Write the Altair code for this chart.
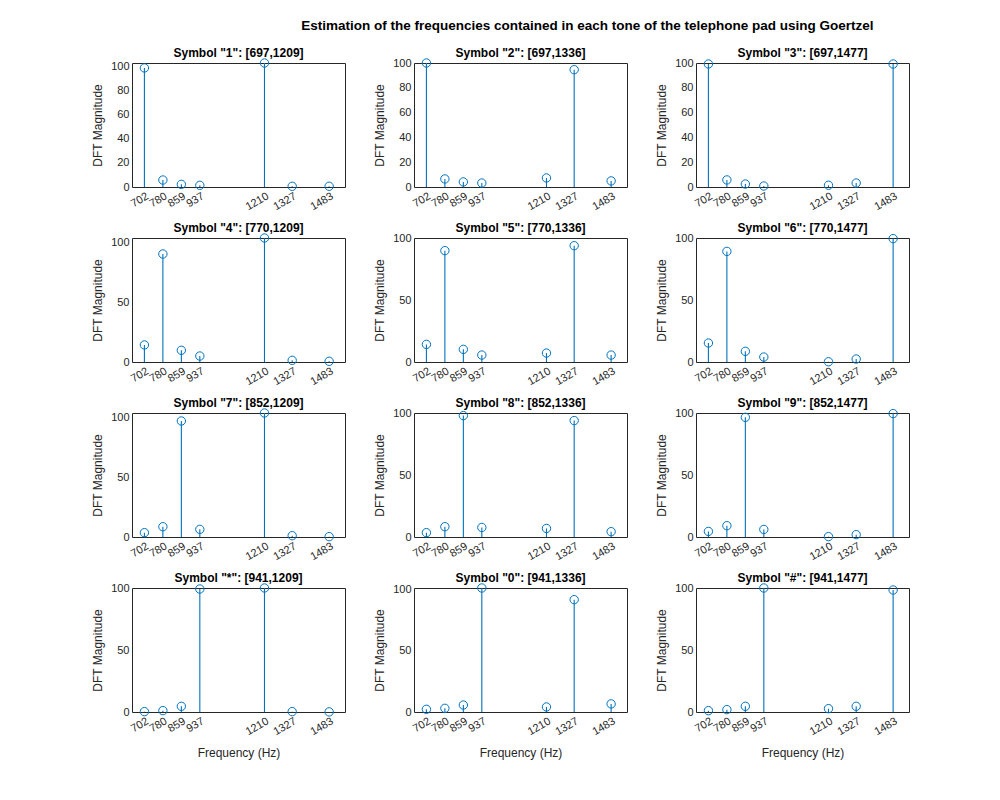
import altair as alt
import pandas as pd

# Bin frequencies (Hz) used by the Goertzel algorithm and their tick labels
freqs = [702.44, 780.49, 858.54, 936.59, 1209.76, 1326.83, 1482.93]
tick_labels = [702, 780, 859, 937, 1210, 1327, 1483]

symbols = ["1", "2", "3", "4", "5", "6", "7", "8", "9", "*", "0", "#"]
low_group = [697, 770, 852, 941]
high_group = [1209, 1336, 1477]

mag_1 = [98.9, 5.8, 2.2, 1.4, 103.0, 0.6, 0.6]
mag_2 = [100.0, 6.5, 4.1, 3.2, 7.3, 94.6, 4.9]
mag_3 = [99.2, 5.7, 2.4, 0.8, 1.4, 3.2, 99.2]
mag_4 = [14.3, 90.5, 9.8, 5.0, 103.9, 1.4, 0.6]
mag_5 = [14.2, 89.8, 10.2, 5.6, 7.2, 93.8, 5.6]
mag_6 = [15.3, 89.2, 8.6, 4.0, 0.2, 2.4, 99.5]
mag_7 = [3.6, 8.6, 97.2, 6.4, 103.9, 1.1, 0.3]
mag_8 = [3.5, 8.3, 97.9, 7.7, 6.9, 93.9, 4.3]
mag_9 = [4.5, 9.1, 96.5, 6.1, 0.3, 1.9, 99.5]
mag_star = [0.3, 1.1, 4.6, 99.5, 100.3, 0.3, 0.1]
mag_0 = [2.2, 3.0, 5.7, 101.0, 4.1, 91.5, 6.6]
mag_hash = [1.1, 1.9, 4.6, 100.0, 2.7, 4.6, 98.4]

magnitudes = [mag_1, mag_2, mag_3, mag_4, mag_5, mag_6,
              mag_7, mag_8, mag_9, mag_star, mag_0, mag_hash]

BLUE = "#0072BD"
TXT = "#262626"
FONT = "Liberation Sans"

panels = []
for i, sym in enumerate(symbols):
    row = i // 3
    col = i % 3
    df = pd.DataFrame({"f": freqs, "mag": magnitudes[i]})
    top = max(100.0, max(magnitudes[i]))
    yticks = [0, 20, 40, 60, 80, 100] if row == 0 else [0, 50, 100]
    title = f'Symbol "{sym}": [{low_group[row]},{high_group[col]}]'
    xtitle = "Frequency (Hz)" if row == 3 else None

    x = alt.X("f:Q",
              scale=alt.Scale(domain=[650, 1550], nice=False),
              axis=alt.Axis(values=freqs, labelExpr="round(datum.value)",
                            labelAngle=330, labelAlign="right", labelBaseline="top",
                            labelPadding=3, labelOverlap=False, labelBound=False,
                            title=xtitle, titlePadding=11))
    y = alt.Y("mag:Q",
              scale=alt.Scale(domain=[0, top], nice=False, zero=True),
              axis=alt.Axis(values=yticks, title="DFT Magnitude", titlePadding=6,
                            labelPadding=3, labelOverlap=False))

    base = alt.Chart(df)
    stems = base.mark_rule(color=BLUE, strokeWidth=1.1).encode(x=x, y=y, y2=alt.datum(0))
    dots = base.mark_point(shape="circle", filled=False, size=70, strokeWidth=1,
                           color=BLUE, opacity=1).encode(x=x, y=y)
    panel = alt.layer(stems, dots).properties(
        width=213, height=124,
        title=alt.TitleParams(title, fontSize=12, fontWeight="bold", font=FONT,
                              color="black", offset=3, dy=6))
    panels.append(panel)

chart = alt.ConcatChart(
    concat=panels, columns=3,
    spacing=alt.RowColnumber(row=51, column=69),
    bounds="flush",
).properties(
    title=alt.TitleParams(
        "Estimation of the frequencies contained in each tone of the telephone pad using Goertzel",
        fontSize=13.5, fontWeight="bold", font=FONT, color="black",
        anchor="middle", dx=87, offset=14),
    padding={"left": 83, "top": 10, "right": 5, "bottom": 5},
    background="white",
).configure_view(
    stroke=TXT, strokeWidth=1
).configure_axis(
    grid=False, domain=False, ticks=False,
    labelFont=FONT, titleFont=FONT, labelFontSize=11, titleFontSize=12,
    labelColor=TXT, titleColor=TXT, titleFontWeight="normal"
)

chart.save("out.html", embed_options={"renderer": "svg", "actions": False})
